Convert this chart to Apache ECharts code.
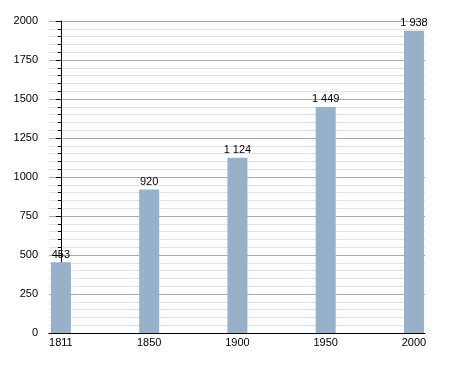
<!DOCTYPE html>
<html><head><meta charset="utf-8">
<script src="https://cdn.jsdelivr.net/npm/echarts@6/dist/echarts.min.js"></script>
<style>html,body{margin:0;padding:0;background:#fff}#c{width:455px;height:373px}</style>
</head><body><div id="c"></div>
<script>
const categories = ['1811', '1850', '1900', '1950', '2000'];
const population = [453, 920, 1124, 1449, 1938];
const yTicks = [0, 250, 500, 750, 1000, 1250, 1500, 1750, 2000];

const fmt = v => String(v).replace(/\B(?=(\d{3})+(?!\d))/g, ' ');
const chart = echarts.init(document.getElementById('c'));
chart.setOption({
  animation: false,
  grid: {left: 49, right: 30, top: 21, bottom: 40},
  xAxis: {
    type: 'value', min: -0.135, max: 4.125,
    axisLine: {show: true, onZero: false, lineStyle: {color: '#000', width: 1}},
    axisTick: {show: false},
    splitLine: {show: false},
    axisLabel: {customValues: categories.map((c, i) => i), formatter: v => categories[Math.round(v)] || '',
      color: '#000', fontFamily: 'Liberation Sans', fontSize: 11, margin: 4}
  },
  yAxis: {
    type: 'value', min: 0, max: 2000, interval: 250,
    axisLine: {show: true, lineStyle: {color: '#000'}},
    axisTick: {show: true, length: 5, lineStyle: {color: '#000'}},
    minorTick: {show: true, splitNumber: 5, length: 3, lineStyle: {color: '#000'}},
    splitLine: {show: true, lineStyle: {color: '#aaaaaa'}},
    minorSplitLine: {show: true, lineStyle: {color: '#e2e2e2'}},
    axisLabel: {customValues: yTicks, formatter: v => String(v), color: '#000', fontFamily: 'Liberation Sans', fontSize: 11, margin: 11}
  },
  series: [{
    type: 'bar', barWidth: 20,
    data: population.map((v, i) => [i, v]),
    itemStyle: {color: '#97b1cb'},
    label: {show: true, position: 'top', distance: 2, color: '#000', fontFamily: 'Liberation Sans', fontSize: 11,
      formatter: p => fmt(p.value[1])}
  }]
});
</script></body></html>
